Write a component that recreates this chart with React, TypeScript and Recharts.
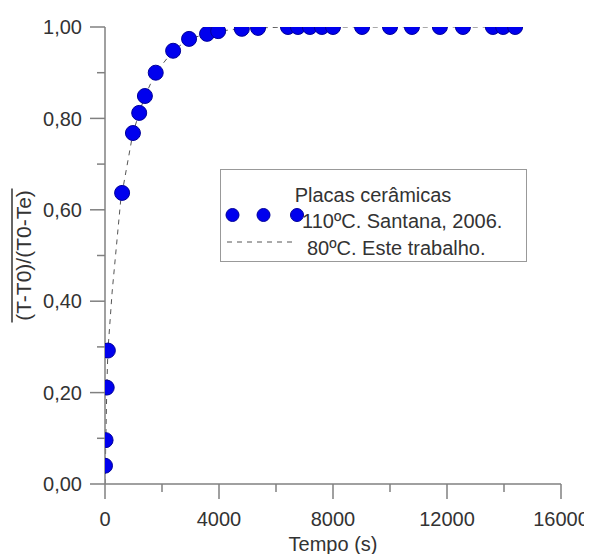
import React from 'react';
import { ComposedChart, Scatter, Line, XAxis, YAxis, Legend } from 'recharts';

// Santana, 2006 (110 ºC) – points
const santanaTime = [0, 20, 60, 100, 600, 980, 1200, 1400, 1780, 2390, 2950, 3580, 3970, 4800, 5370, 6420, 6770, 7190, 7610, 8000, 9020, 10000, 10770, 11750, 12560, 13610, 13970, 14390];
const santanaRatio = [0.04, 0.096, 0.211, 0.292, 0.637, 0.768, 0.812, 0.849, 0.9, 0.948, 0.974, 0.985, 0.991, 0.996, 0.998, 1.0, 1.0, 1.0, 1.0, 1.0, 1.0, 1.0, 1.0, 1.0, 1.0, 1.0, 1.0, 1.0];

// Este trabalho (80 ºC) – dashed curve
const modelTime = [0, 30, 60, 100, 250, 400, 550, 600, 980, 1200, 1400, 1780, 2390, 2950, 3580, 3970, 4800, 5370, 6420, 8000, 10000, 12000, 14390];
const modelRatio = [0.0, 0.1, 0.2, 0.29, 0.42, 0.52, 0.62, 0.637, 0.768, 0.812, 0.849, 0.9, 0.948, 0.974, 0.985, 0.991, 0.996, 0.998, 1.0, 1.0, 1.0, 1.0, 1.0];

const xTicks = [0, 2000, 4000, 6000, 8000, 10000, 12000, 14000, 16000];
const yTicks = [0, 0.1, 0.2, 0.3, 0.4, 0.5, 0.6, 0.7, 0.8, 0.9, 1.0];

const legendTitle = 'Placas cerâmicas';
const santanaName = '110ºC. Santana, 2006.';
const modelName = '80ºC. Este trabalho.';
const xTitle = 'Tempo (s)';
const yTitle = '(T-T0)/(T0-Te)';

const santanaData = santanaTime.map((t, i) => ({ t, r: santanaRatio[i] }));
const modelData = modelTime.map((t, i) => ({ t, r: modelRatio[i] }));

const FONT = '"Liberation Sans", Arial, sans-serif';
const TEXT = '#333333';
const AXIS = '#808080';
const DOT_FILL = '#0000ee';
const DOT_STROKE = '#00009a';

const XTick = (props: any) => {
  const { x, y, payload } = props;
  const v = payload.value;
  const major = v % 4000 === 0;
  return (
    <g>
      <line x1={x} x2={x} y1={y} y2={y + (major ? 15 : 8)} stroke={AXIS} strokeWidth={1.5} />
      {major && (
        <text x={x} y={y + 42} textAnchor="middle" fontSize={20} fontFamily={FONT} fill={TEXT}>
          {v}
        </text>
      )}
    </g>
  );
};

const YTick = (props: any) => {
  const { x, y, payload } = props;
  const v = payload.value;
  const major = Math.round(v * 10) % 2 === 0;
  return (
    <g>
      <line x1={x - (major ? 15 : 8)} x2={x} y1={y} y2={y} stroke={AXIS} strokeWidth={1.5} />
      {major && (
        <text x={x - 23} y={y} dy="0.36em" textAnchor="end" fontSize={20} fontFamily={FONT} fill={TEXT}>
          {v.toFixed(2).replace('.', ',')}
        </text>
      )}
    </g>
  );
};

const YLabel = (props: any) => {
  const vb = props.viewBox || {};
  const cy = vb.y + vb.height / 2;
  const bx = 23;
  const len = 134;
  return (
    <g>
      <line x1={4} x2={4} y1={cy - len / 2} y2={cy + len / 2} stroke={TEXT} strokeWidth={1.5} />
      <text
        x={bx}
        y={cy}
        transform={`rotate(-90 ${bx} ${cy})`}
        textAnchor="middle"
        fontSize={21}
        fontFamily={FONT}
        fill={TEXT}
      >
        {yTitle}
      </text>
    </g>
  );
};

const XLabel = (props: any) => {
  const vb = props.viewBox || {};
  const cx = vb.x + vb.width / 2;
  return (
    <text x={cx} y={vb.y + 67} textAnchor="middle" fontSize={20} fontFamily={FONT} fill={TEXT}>
      {xTitle}
    </text>
  );
};

const LegendBox = () => (
  <div
    style={{
      width: 307,
      height: 93,
      boxSizing: 'border-box',
      border: '1.5px solid #999',
      background: '#fff',
    }}
  >
    <svg width={304} height={90} style={{ display: 'block' }}>
      <text x={152} y={32} textAnchor="middle" fontSize={20} fontFamily={FONT} fill={TEXT}>
        {legendTitle}
      </text>
      {[11.5, 42.5, 76].map((cx) => (
        <circle key={cx} cx={cx} cy={45} r={6.5} fill={DOT_FILL} stroke={DOT_STROKE} strokeWidth={1} />
      ))}
      <text x={81} y={58} fontSize={20} fontFamily={FONT} fill={TEXT}>
        {santanaName}
      </text>
      <line x1={6} x2={76} y1={72} y2={72} stroke="#555" strokeWidth={1} strokeDasharray="5 5" />
      <text x={86} y={85} fontSize={20} fontFamily={FONT} fill={TEXT}>
        {modelName}
      </text>
    </svg>
  </div>
);

export default function App() {
  return (
    <ComposedChart
      width={584}
      height={546}
      margin={{ top: 19, right: 31, left: 0, bottom: 0 }}
      style={{ background: '#fff' }}
    >
      <XAxis
        type="number"
        dataKey="t"
        domain={[0, 16000]}
        ticks={xTicks}
        interval={0}
        height={70}
        tickSize={0}
        tickMargin={0}
        tickLine={false}
        axisLine={{ stroke: AXIS, strokeWidth: 1.5 }}
        tick={<XTick />}
        label={<XLabel />}
        allowDataOverflow
      />
      <YAxis
        type="number"
        dataKey="r"
        domain={[0, 1]}
        ticks={yTicks}
        interval={0}
        width={97}
        tickSize={0}
        tickMargin={0}
        tickLine={false}
        axisLine={{ stroke: AXIS, strokeWidth: 1.5 }}
        tick={<YTick />}
        label={<YLabel />}
        allowDataOverflow
      />
      <Legend
        verticalAlign="middle"
        align="center"
        layout="horizontal"
        wrapperStyle={{ position: 'absolute', left: 212, top: 161, width: 307, height: 93 }}
        content={() => <LegendBox />}
      />
      <Line
        data={modelData}
        dataKey="r"
        type="linear"
        stroke="#555"
        strokeWidth={1}
        strokeDasharray="5 5"
        dot={false}
        activeDot={false}
        isAnimationActive={false}
        legendType="none"
      />
      <Scatter
        data={santanaData}
        dataKey="r"
        isAnimationActive={false}
        shape={(p: any) => (
          <circle cx={p.cx} cy={p.cy} r={7.5} fill={DOT_FILL} stroke={DOT_STROKE} strokeWidth={1} />
        )}
      />
    </ComposedChart>
  );
}
